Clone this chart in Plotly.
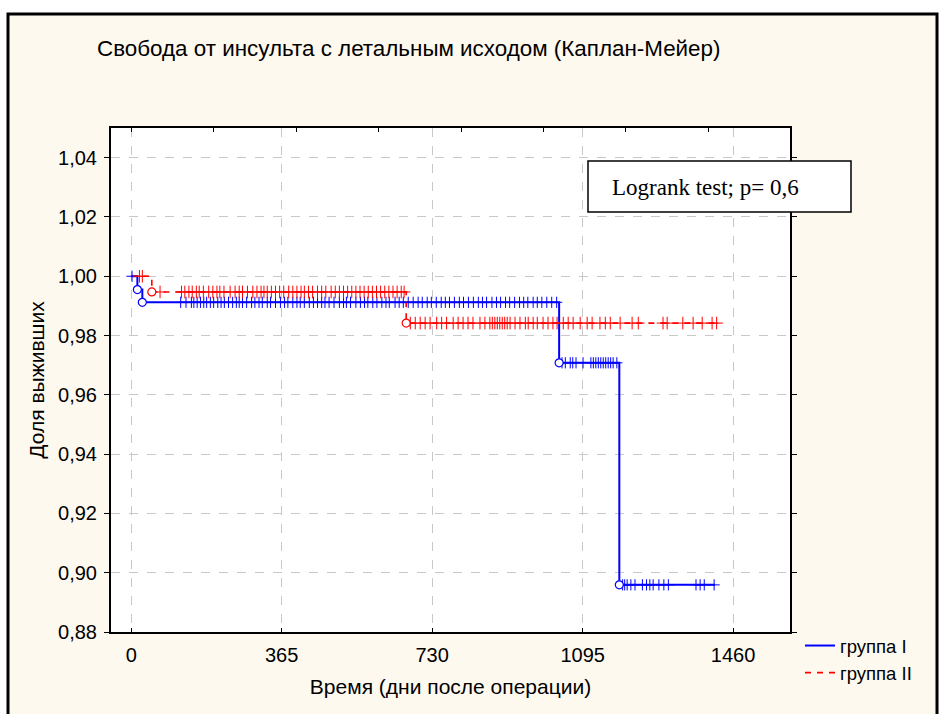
import numpy as np
import plotly.graph_objects as go

# ---------------- data ----------------
# Group I (blue, solid): step curve (event times -> survival after event)
g1_times = [0, 15, 27, 1038, 1184, 1416]
g1_surv = [1.0, 0.9955, 0.9912, 0.9708, 0.8959, 0.8959]
g1_event_times = [15, 27, 1038, 1184]
g1_censor = [2, 120, 133, 146, 152, 160, 168, 176, 183, 192, 200, 210, 218, 226, 236, 246,
             255, 262, 270, 280, 292, 300, 310, 318, 330, 338, 350, 362, 372, 380, 392,
             402, 410, 420, 432, 442, 452, 462, 470, 480, 492, 505, 515, 522, 532, 545,
             556, 566, 574, 586, 596, 608, 618, 626, 640, 650, 660, 672, 684, 696, 706,
             718, 728, 740, 752, 762, 772, 784, 796, 806, 818, 830, 842, 852, 862, 875,
             886, 896, 908, 918, 930, 942, 952, 962, 975, 985, 996, 1008, 1020, 1032,
             1045, 1053, 1065, 1071, 1079, 1096, 1115, 1121, 1127, 1133, 1139, 1145, 1151,
             1157, 1163, 1169, 1178,
             1192, 1197, 1203, 1212, 1222, 1240, 1250, 1258, 1266, 1280, 1292, 1303,
             1370, 1380, 1390, 1414]

# Group II (red, dashed)
g2_times = [0, 50, 667, 1424]
g2_surv = [1.0, 0.9947, 0.9842, 0.9842]
g2_event_times = [50, 667]
g2_censor = [20, 27, 70, 122, 130, 140, 148, 158, 165, 175, 188, 198, 208, 215, 225, 240,
             252, 262, 270, 282, 295, 305, 315, 322, 330, 340, 350, 360, 370, 382, 392,
             402, 412, 420, 430, 440, 452, 462, 472, 485, 495, 505, 515, 525, 535, 545,
             555, 565, 575, 585, 595, 605, 615, 625, 635, 645, 655, 662,
             677, 689, 701, 713, 725, 741, 753, 765, 781, 793, 805, 817, 829, 846, 858,
             870, 876, 882, 888, 894, 900, 906, 912, 919, 931, 943, 956, 963, 975, 985,
             999, 1011, 1023, 1033, 1048, 1060, 1072, 1089, 1106, 1118, 1137, 1150, 1162,
             1186, 1215, 1230, 1290, 1300, 1338, 1363, 1385, 1409, 1420]

x_tickvals = [0, 365, 730, 1095, 1460]
x_ticktext = ["0", "365", "730", "1095", "1460"]
x_top_tickvals = [0, 200, 400, 600, 800, 1000, 1200, 1400]
y_tickvals = [0.88, 0.90, 0.92, 0.94, 0.96, 0.98, 1.00, 1.02, 1.04]
y_ticktext = ["0,88", "0,90", "0,92", "0,94", "0,96", "0,98", "1,00", "1,02", "1,04"]

title_text = "Свобода от инсульта с летальным исходом (Каплан-Мейер)"
x_title = "Время (дни после операции)"
y_title = "Доля выживших"
legend_names = ["группа I", "группа II"]
logrank_text = "Logrank test; p= 0,6"

BLUE = "#0000FF"
RED = "#FF0000"
CREAM = "#FEF9EF"


def step_value(times, surv, t):
    idx = np.searchsorted(np.array(times), t, side="right") - 1
    return surv[idx]


fig = go.Figure()

# main step lines
fig.add_trace(go.Scatter(x=g1_times, y=g1_surv, mode="lines", line=dict(color=BLUE, width=2, shape="hv"),
                         name=legend_names[0]))
fig.add_trace(go.Scatter(x=g2_times, y=g2_surv, mode="lines",
                         line=dict(color=RED, width=1.6, shape="hv", dash="6px,6px"),
                         name=legend_names[1]))

# censor marks
fig.add_trace(go.Scatter(x=g1_censor, y=[step_value(g1_times, g1_surv, t) for t in g1_censor], mode="markers",
                         marker=dict(symbol="cross-thin", size=8, line=dict(color=BLUE, width=1)),
                         showlegend=False, hoverinfo="skip"))
fig.add_trace(go.Scatter(x=g2_censor, y=[step_value(g2_times, g2_surv, t) for t in g2_censor], mode="markers",
                         marker=dict(symbol="cross-thin", size=9, line=dict(color=RED, width=1)),
                         showlegend=False, hoverinfo="skip"))

# event circles
fig.add_trace(go.Scatter(x=g1_event_times, y=[step_value(g1_times, g1_surv, t) for t in g1_event_times],
                         mode="markers", marker=dict(symbol="circle", size=8, color="white",
                                                     line=dict(color=BLUE, width=1.2)),
                         showlegend=False, hoverinfo="skip"))
fig.add_trace(go.Scatter(x=g2_event_times, y=[step_value(g2_times, g2_surv, t) for t in g2_event_times],
                         mode="markers", marker=dict(symbol="circle", size=8, color="white",
                                                     line=dict(color=RED, width=1.2)),
                         showlegend=False, hoverinfo="skip"))

# invisible trace on top axis
fig.add_trace(go.Scatter(x=[0], y=[1.0], xaxis="x2", mode="markers", marker=dict(opacity=0),
                         showlegend=False, hoverinfo="skip"))

XR = [-49, 1598]
YR = [0.88, 1.05]

font_sans = "Liberation Sans, Arial, sans-serif"

fig.update_layout(
    width=939, height=714,
    margin=dict(l=111, r=149, t=128, b=82),
    paper_bgcolor="white",
    plot_bgcolor="white",
    font=dict(family=font_sans, size=20, color="black"),
    title=dict(text=title_text, x=97 / 939, xref="container", xanchor="left",
               y=1 - 48 / 714, yref="container", yanchor="middle",
               font=dict(family=font_sans, size=22.4, color="black")),
    xaxis=dict(range=XR, tickvals=x_tickvals, ticktext=x_ticktext, ticks="inside", ticklen=4,
               tickcolor="black", showline=True, linecolor="black", linewidth=2, mirror=False,
               showgrid=True, gridcolor="#C8C8C8", griddash="dash", gridwidth=1, zeroline=False,
               ticklabelstandoff=4,
               title=dict(text=x_title, standoff=14, font=dict(size=21)),
               tickfont=dict(size=20)),
    xaxis2=dict(range=XR, overlaying="x", side="top", tickvals=x_top_tickvals, ticks="inside", ticklen=4,
                tickcolor="black", showticklabels=False, showgrid=False, showline=True,
                linecolor="black", linewidth=2, zeroline=False),
    yaxis=dict(range=YR, tickvals=y_tickvals, ticktext=y_ticktext, ticks="outside", ticklen=5,
               tickcolor="black", showline=True, linecolor="black", linewidth=2, mirror="ticks",
               showgrid=True, gridcolor="#C8C8C8", griddash="dash", gridwidth=1, zeroline=False,
               ticklabelstandoff=3,
               title=dict(text=y_title, standoff=8, font=dict(size=21)),
               tickfont=dict(size=20)),
    legend=dict(x=(800 - 111) / 679, y=(632 - 627) / 504, xanchor="left", yanchor="top",
                bgcolor="rgba(0,0,0,0)", font=dict(size=18.5, color="black"), tracegroupgap=0),
    showlegend=True,
)

# frame and backgrounds
pw, ph = 679, 504
def px_x(x):
    return (x - 111) / pw
def px_y(y):
    return (632 - y) / ph

fig.add_shape(type="rect", xref="paper", yref="paper", layer="below",
              x0=px_x(8), x1=px_x(937), y0=px_y(730), y1=px_y(14),
              fillcolor=CREAM, line=dict(color="black", width=3))
fig.add_shape(type="rect", xref="paper", yref="paper", layer="below",
              x0=0, x1=1, y0=0, y1=1, fillcolor="white", line=dict(width=0))

# logrank box
fig.add_shape(type="rect", xref="paper", yref="paper", layer="above",
              x0=px_x(588), x1=px_x(851), y0=px_y(212), y1=px_y(161),
              fillcolor="white", line=dict(color="black", width=1.5))
fig.add_annotation(xref="paper", yref="paper", x=px_x(610), y=px_y(187), xanchor="left", yanchor="middle",
                   text=logrank_text, showarrow=False,
                   font=dict(family="Liberation Serif, Times New Roman, serif", size=23, color="black"))

fig.write_html("out.html")
